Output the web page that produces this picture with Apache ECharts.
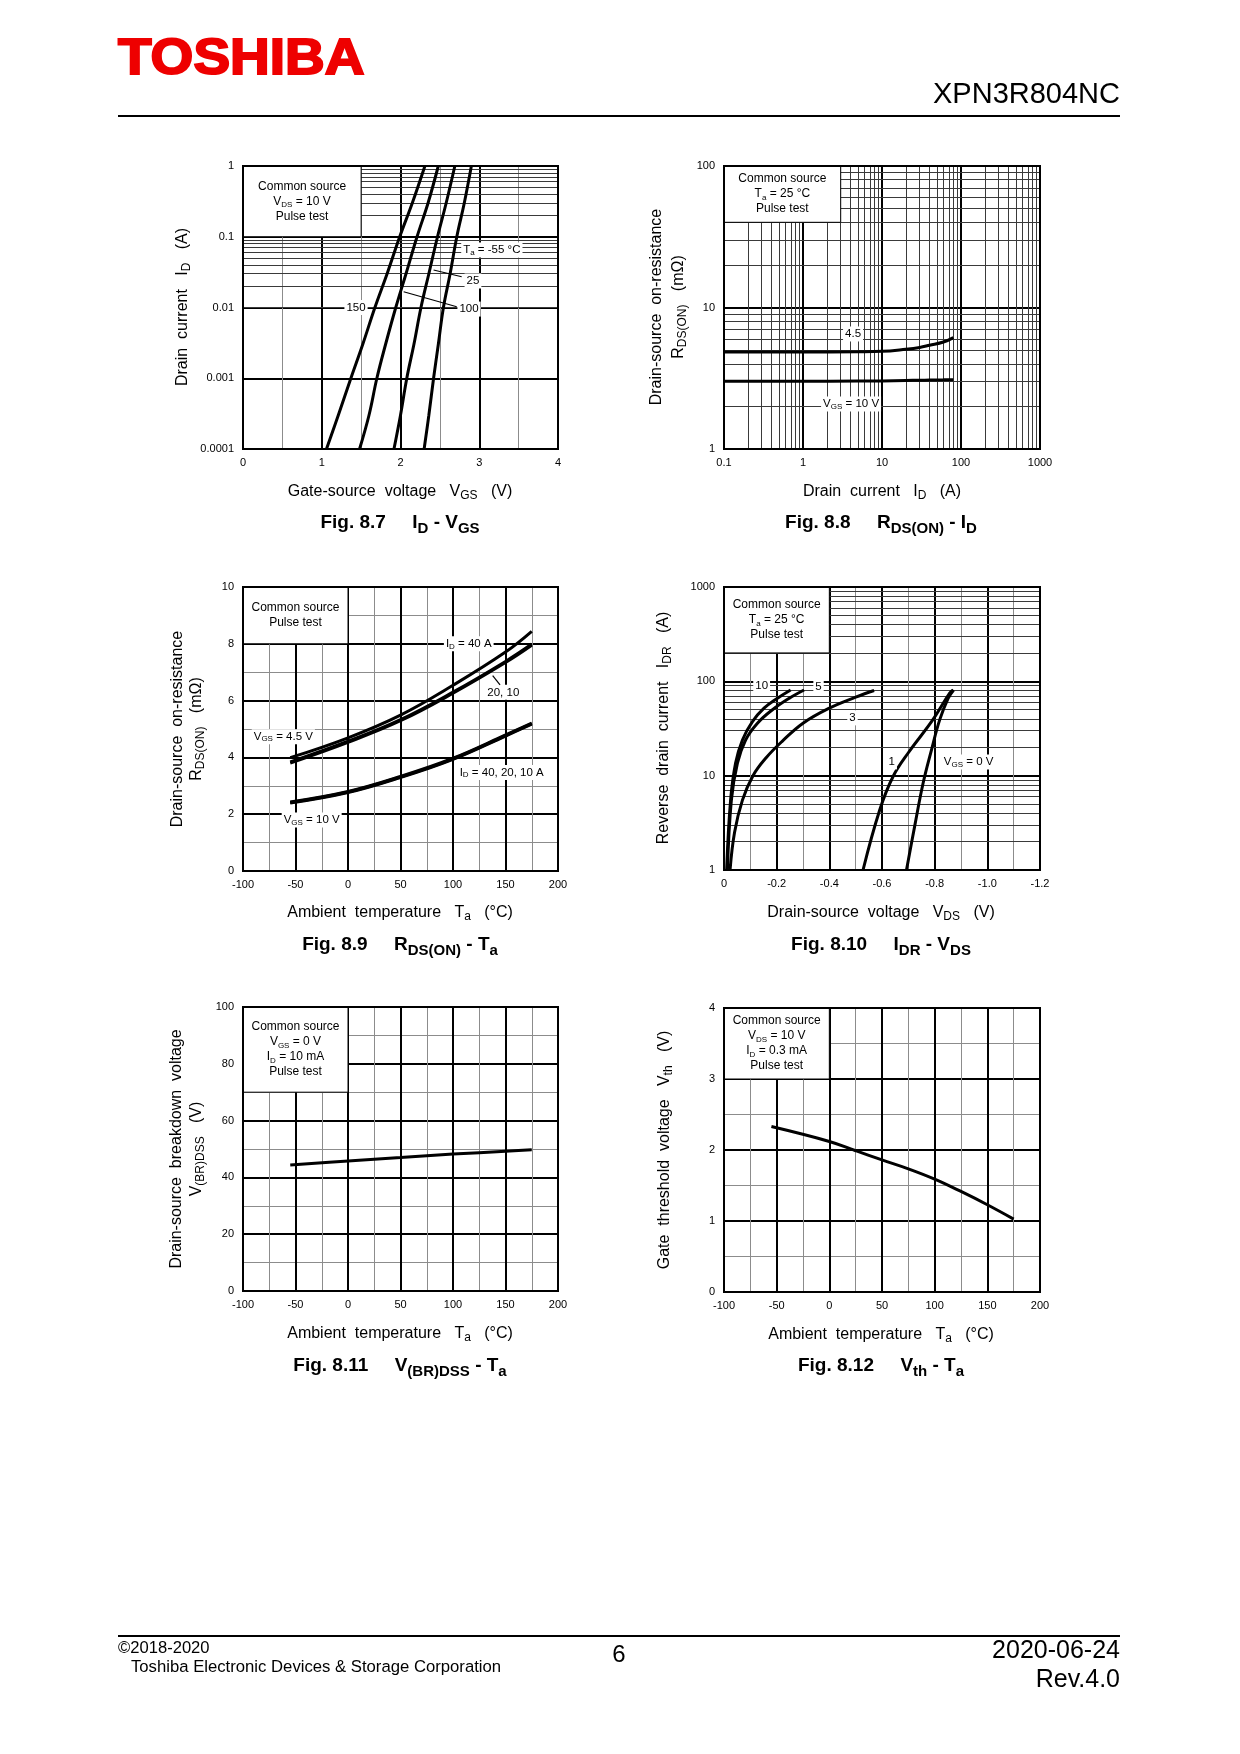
<!DOCTYPE html>
<html><head><meta charset="utf-8">
<script src="https://cdn.jsdelivr.net/npm/echarts@6/dist/echarts.min.js"></script>
<style>html,body{margin:0;padding:0;background:#fff}#c{width:1240px;height:1754px}</style>
</head><body><div id="c"></div>
<script>
// ================= DATA =================
// Fig. 8.7  ID - VGS
const id87 = [0.0001, 0.0003, 0.001, 0.003, 0.01, 0.03, 0.1, 0.3, 1];
const vgs87_150 = [1.06, 1.21, 1.37, 1.52, 1.675, 1.83, 1.99, 2.15, 2.31];
const vgs87_100 = [1.48, 1.60, 1.70, 1.81, 1.94, 2.07, 2.21, 2.35, 2.48];
const vgs87_25  = [1.917, 2.00, 2.08, 2.17, 2.26, 2.36, 2.47, 2.58, 2.69];
const vgs87_m55 = [2.30, 2.36, 2.42, 2.48, 2.545, 2.63, 2.715, 2.81, 2.90];
const xTicks87 = ['0', '1', '2', '3', '4'];
const yTicks87 = ['0.0001', '0.001', '0.01', '0.1', '1'];

// Fig. 8.8  RDS(ON) - ID
const id88 = [0.1, 1, 5, 10, 20, 30, 40, 60, 80];
const r88_45 = [4.85, 4.85, 4.87, 4.90, 5.07, 5.22, 5.41, 5.70, 6.13];
const r88_10 = [3.01, 3.01, 3.02, 3.03, 3.05, 3.06, 3.07, 3.08, 3.09];
const xTicks88 = ['0.1', '1', '10', '100', '1000'];
const yTicks88 = ['1', '10', '100'];

// Fig. 8.9  RDS(ON) - Ta
const ta89 = [-55, 0, 50, 100, 150, 175];
const r89_45_40 = [3.99, 4.69, 5.49, 6.54, 7.71, 8.44];
const r89_45_20 = [3.84, 4.57, 5.33, 6.30, 7.38, 7.99];
const r89_45_10 = [3.80, 4.53, 5.29, 6.26, 7.34, 7.95];
const r89_10_40 = [2.43, 2.80, 3.33, 3.97, 4.79, 5.21];
const r89_10_20 = [2.41, 2.78, 3.31, 3.95, 4.77, 5.19];
const r89_10_10 = [2.39, 2.76, 3.29, 3.93, 4.75, 5.17];
const taTicks = ['-100', '-50', '0', '50', '100', '150', '200'];
const yTicks89 = ['0', '2', '4', '6', '8', '10'];

// Fig. 8.10  IDR - VDS
const vds810_10 = [-0.010, -0.025, -0.044, -0.070, -0.108, -0.152, -0.203, -0.253];
const idr810_10 = [1, 5.5, 13.6, 23.9, 37.4, 51.9, 66.2, 81];
const vds810_5 = [-0.013, -0.028, -0.051, -0.082, -0.127, -0.184, -0.247, -0.304];
const idr810_5 = [1, 5.5, 13.6, 23.9, 36, 50, 66, 81];
const vds810_3 = [-0.023, -0.040, -0.070, -0.110, -0.160, -0.220, -0.300, -0.400, -0.500, -0.570];
const idr810_3 = [1, 2.5, 5.5, 10, 15.5, 23, 36, 52, 68, 80];
const vds810_1 = [-0.528, -0.591, -0.642, -0.700, -0.790, -0.857, -0.870];
const idr810_1 = [1, 4.3, 9.8, 17.5, 38, 75, 81];
const vds810_0 = [-0.693, -0.724, -0.756, -0.788, -0.819, -0.851, -0.872];
const idr810_0 = [1, 2.9, 8.3, 18.8, 39, 66, 81];
const xTicks810 = ['0', '-0.2', '-0.4', '-0.6', '-0.8', '-1.0', '-1.2'];
const yTicks810 = ['1', '10', '100', '1000'];

// Fig. 8.11  V(BR)DSS - Ta
const ta811 = [-55, 0, 50, 100, 150, 175];
const vbr811 = [44.4, 45.8, 47.0, 48.2, 49.2, 49.7];
const yTicks811 = ['0', '20', '40', '60', '80', '100'];

// Fig. 8.12  Vth - Ta
const ta812 = [-55, 0, 25, 50, 75, 100, 125, 150, 175];
const vth812 = [2.33, 2.12, 1.99, 1.86, 1.735, 1.59, 1.416, 1.229, 1.027];
const yTicks812 = ['0', '1', '2', '3', '4'];

// in-plot annotations
const labels87 = [
  { x: 3.16, y: 0.065, t: 'T{s|a} = -55 °C' },
  { x: 2.92, y: 0.0237, t: '25' },
  { x: 2.87, y: 0.0095, t: '100' },
  { x: 1.435, y: 0.01, t: '150' }
];
const arrows87 = [[[2.777, 0.0272], [2.42, 0.0339]], [[2.714, 0.01026], [2.04, 0.0167]]];
const labels88 = [
  { x: 4.3, y: 6.5, t: '4.5' },
  { x: 4.06, y: 2.08, t: 'V{s|GS} = 10 V' }
];
const labels89 = [
  { x: 115, y: 8.0, t: 'I{s|D} = 40 A' },
  { x: 147.9, y: 6.29, t: '20, 10' },
  { x: -61.6, y: 4.73, t: 'V{s|GS} = 4.5 V' },
  { x: 146.4, y: 3.47, t: 'I{s|D} = 40, 20, 10 A' },
  { x: -34.6, y: 1.80, t: 'V{s|GS} = 10 V' }
];
const arrows89 = [[[144.8, 6.55], [137.8, 6.88]]];
const labels810 = [
  { x: -0.143, y: 89, t: '10' },
  { x: -0.359, y: 88, t: '5' },
  { x: -0.488, y: 41, t: '3' },
  { x: -0.637, y: 14, t: '1' },
  { x: -0.929, y: 14, t: 'V{s|GS} = 0 V' }
];

// condition boxes
const box87 = ['Common source', 'V{s|DS} = 10 V', 'Pulse test'];
const box88 = ['Common source', 'T{s|a} = 25 °C', 'Pulse test'];
const box89 = ['Common source', 'Pulse test'];
const box810 = ['Common source', 'T{s|a} = 25 °C', 'Pulse test'];
const box811 = ['Common source', 'V{s|GS} = 0 V', 'I{s|D} = 10 mA', 'Pulse test'];
const box812 = ['Common source', 'V{s|DS} = 10 V', 'I{s|D} = 0.3 mA', 'Pulse test'];

// ================= STYLE / BUILD =================
const FF = "'Liberation Sans', Arial, Helvetica, sans-serif";
const sub = (fs, bold) => ({ s: { fontSize: fs, lineHeight: fs, verticalAlign: 'bottom', fontFamily: FF, fontWeight: bold ? 'bold' : 'normal', color: '#000', textBorderWidth: 0, opacity: 1 } });
const logMinorMult = [2, 3, 4, 5, 6, 7, 8, 9];
function minorsLog(e0, e1) {
  const out = [];
  for (let e = e0; e < e1; e++) for (const m of logMinorMult) out.push(+(m * Math.pow(10, e)).toPrecision(6));
  return out;
}
function fmt(ticks) {
  return function (v) {
    let best = '', bd = Infinity;
    for (const t of ticks) {
      const n = Number(t);
      const d = (n > 0 && v > 0) ? Math.abs(Math.log10(n) - Math.log10(v)) : Math.abs(n - v);
      if (d < bd) { bd = d; best = t; }
    }
    return bd < 1e-6 ? best : '';
  };
}
function linAxis(gi, dim, min, max, interval, ticks, extra) {
  return Object.assign({
    type: 'value', gridIndex: gi, min, max, interval,
    axisLine: { show: false }, axisTick: { show: false },
    axisLabel: { color: '#000', fontSize: 11, fontFamily: FF, margin: dim === 'x' ? 8 : 9, formatter: fmt(ticks), showMinLabel: true, showMaxLabel: true },
    splitLine: { show: true, lineStyle: { color: '#000', width: 2 } },
    minorTick: { show: false, splitNumber: 2 },
    minorSplitLine: { show: true, lineStyle: { color: '#8c8c8c', width: 1 } }
  }, extra || {});
}
function logAxis(gi, dim, min, max, ticks, extra) {
  return Object.assign({
    type: 'log', logBase: 10, gridIndex: gi, min, max,
    axisLine: { show: false }, axisTick: { show: false },
    axisLabel: { color: '#000', fontSize: 11, fontFamily: FF, margin: dim === 'x' ? 8 : 9, formatter: fmt(ticks), showMinLabel: true, showMaxLabel: true },
    splitLine: { show: true, lineStyle: { color: '#000', width: 2 } },
    minorTick: { show: false }, minorSplitLine: { show: false }
  }, extra || {});
}
function gridLines(gi, axis, values) {
  return {
    type: 'line', xAxisIndex: gi, yAxisIndex: gi, data: [], z: 1, silent: true,
    markLine: {
      z: 1, silent: true, animation: false, symbol: ['none', 'none'], label: { show: false },
      lineStyle: { color: '#3a3a3a', width: 1, type: 'solid' }, emphasis: { disabled: true },
      data: values.map(v => axis === 'x' ? { xAxis: v } : { yAxis: v })
    }
  };
}
function boxSeries(gi, x0, x1, y0, y1, lines) {
  return {
    type: 'line', xAxisIndex: gi, yAxisIndex: gi, data: [], z: 3, silent: true,
    markArea: {
      z: 3, silent: true, animation: false,
      itemStyle: { color: '#fff', borderColor: '#000', borderWidth: 1 },
      emphasis: { disabled: true },
      label: {
        show: true, position: 'inside', align: 'center', verticalAlign: 'middle',
        formatter: () => lines.join('\n'), color: '#000', fontSize: 12, lineHeight: 15, fontFamily: FF,
        textBorderWidth: 0, rich: sub(8)
      },
      data: [[{ xAxis: x0, yAxis: y1 }, { xAxis: x1, yAxis: y0 }]]
    }
  };
}
function curve(gi, xs, ys, w) {
  return {
    type: 'line', xAxisIndex: gi, yAxisIndex: gi, z: 4, silent: true,
    data: xs.map((x, i) => [x, ys[i]]),
    symbol: 'none', showSymbol: false, smooth: 0.4,
    lineStyle: { color: '#000', width: w || 3 }
  };
}
function labelSeries(gi, labels, arrows) {
  const s = {
    type: 'scatter', xAxisIndex: gi, yAxisIndex: gi, z: 5, silent: true,
    symbol: 'circle', symbolSize: 0, itemStyle: { color: '#000', opacity: 1 },
    data: labels.map(l => ({ value: [l.x, l.y], label: { formatter: () => l.t } })),
    label: {
      show: true, position: 'inside', color: '#000', opacity: 1, fontSize: 11.5, lineHeight: 13, fontFamily: FF,
      backgroundColor: '#fff', padding: [1, 2], textBorderWidth: 0, rich: sub(8)
    }
  };
  if (arrows) {
    s.markLine = {
      z: 6, silent: true, animation: false, symbol: ['none', 'arrow'], symbolSize: [0, 7],
      label: { show: false }, lineStyle: { color: '#000', width: 1.2, type: 'solid' }, emphasis: { disabled: true },
      data: arrows.map(a => [{ coord: a[0] }, { coord: a[1] }])
    };
  }
  return s;
}

const grids = [
  { left: 243, top: 166, width: 315, height: 283 },
  { left: 724, top: 166, width: 316, height: 283 },
  { left: 243, top: 587, width: 315, height: 284 },
  { left: 724, top: 587, width: 316, height: 283 },
  { left: 243, top: 1007, width: 315, height: 284 },
  { left: 724, top: 1008, width: 316, height: 284 }
];

const series = [
  gridLines(0, 'y', minorsLog(-4, 0)),
  gridLines(1, 'x', minorsLog(-1, 3)),
  gridLines(1, 'y', minorsLog(0, 2)),
  gridLines(3, 'y', minorsLog(0, 3)),
  boxSeries(0, 0, 1.5, 0.1, 1, box87),
  boxSeries(1, 0.1, 3, 40, 100, box88),
  boxSeries(2, -100, 0, 8, 10, box89),
  boxSeries(3, 0, -0.4, 200, 1000, box810),
  boxSeries(4, -100, 0, 70, 100, box811),
  boxSeries(5, -100, 0, 3, 4, box812),
  curve(0, vgs87_150, id87), curve(0, vgs87_100, id87), curve(0, vgs87_25, id87), curve(0, vgs87_m55, id87),
  curve(1, id88, r88_45), curve(1, id88, r88_10),
  curve(2, ta89, r89_45_40), curve(2, ta89, r89_45_20), curve(2, ta89, r89_45_10),
  curve(2, ta89, r89_10_40), curve(2, ta89, r89_10_20), curve(2, ta89, r89_10_10),
  curve(3, vds810_10, idr810_10), curve(3, vds810_5, idr810_5), curve(3, vds810_3, idr810_3),
  curve(3, vds810_1, idr810_1), curve(3, vds810_0, idr810_0),
  curve(4, ta811, vbr811),
  curve(5, ta812, vth812),
  labelSeries(0, labels87, arrows87),
  labelSeries(1, labels88),
  labelSeries(2, labels89, arrows89),
  labelSeries(3, labels810)
];

// ---- page texts ----
function gtext(x, y, text, o) {
  o = o || {};
  const fs = o.fs || 16;
  return {
    type: 'text', x, y, rotation: o.rot || 0, silent: true, z: 100, scaleX: o.sx || 1,
    style: {
      text, x: 0, y: 0, fill: o.color || '#000', fontSize: fs, fontFamily: o.ff || FF,
      fontWeight: o.fw || 'normal', lineHeight: o.lh || Math.round(fs * 1.25),
      align: o.align || 'center', verticalAlign: 'middle', textAlign: o.align || 'center', textVerticalAlign: 'middle',
      stroke: o.stroke, lineWidth: o.lw || 0, rich: o.rich || sub(Math.round(fs * 0.72), o.fw === 'bold')
    }
  };
}
const CAP = { fs: 19, fw: 'bold', rich: sub(15, true), lh: 26 };
const ROT = Math.PI / 2;
const graphics = [
  gtext(118, 60, 'TOSHIBA', { fs: 50, fw: 'bold', color: '#ee0000', align: 'left', sx: 1.1, stroke: '#ee0000', lw: 2 }),
  gtext(1120, 95, 'XPN3R804NC', { fs: 29, align: 'right' }),
  { type: 'line', silent: true, z: 100, shape: { x1: 118, y1: 116, x2: 1120, y2: 116 }, style: { stroke: '#000', lineWidth: 2 } },
  { type: 'line', silent: true, z: 100, shape: { x1: 118, y1: 1636, x2: 1120, y2: 1636 }, style: { stroke: '#000', lineWidth: 2 } },
  gtext(118, 1648, '©2018-2020', { fs: 16.6, align: 'left' }),
  gtext(131, 1667, 'Toshiba Electronic Devices & Storage Corporation', { fs: 16.7, align: 'left' }),
  gtext(619, 1655, '6', { fs: 24 }),
  gtext(1120, 1651, '2020-06-24', { fs: 25, align: 'right' }),
  gtext(1120, 1680, 'Rev.4.0', { fs: 25, align: 'right' }),

  // Fig 8.7
  gtext(183, 307, 'Drain  current   I{s|D}   (A)', { rot: ROT }),
  gtext(400, 492, 'Gate-source  voltage   V{s|GS}   (V)'),
  gtext(400, 523, 'Fig. 8.7     I{s|D} - V{s|GS}', CAP),
  // Fig 8.8
  gtext(657, 307, 'Drain-source  on-resistance', { rot: ROT }),
  gtext(679, 307, 'R{s|DS(ON)}   (mΩ)', { rot: ROT }),
  gtext(882, 492, 'Drain  current   I{s|D}   (A)'),
  gtext(881, 523, 'Fig. 8.8     R{s|DS(ON)} - I{s|D}', CAP),
  // Fig 8.9
  gtext(178, 729, 'Drain-source  on-resistance', { rot: ROT }),
  gtext(197, 729, 'R{s|DS(ON)}   (mΩ)', { rot: ROT }),
  gtext(400, 913, 'Ambient  temperature   T{s|a}   (°C)'),
  gtext(400, 945, 'Fig. 8.9     R{s|DS(ON)} - T{s|a}', CAP),
  // Fig 8.10
  gtext(664, 728, 'Reverse  drain  current   I{s|DR}   (A)', { rot: ROT }),
  gtext(881, 913, 'Drain-source  voltage   V{s|DS}   (V)'),
  gtext(881, 945, 'Fig. 8.10     I{s|DR} - V{s|DS}', CAP),
  // Fig 8.11
  gtext(177, 1149, 'Drain-source  breakdown  voltage', { rot: ROT }),
  gtext(197, 1149, 'V{s|(BR)DSS}   (V)', { rot: ROT }),
  gtext(400, 1334, 'Ambient  temperature   T{s|a}   (°C)'),
  gtext(400, 1366, 'Fig. 8.11     V{s|(BR)DSS} - T{s|a}', CAP),
  // Fig 8.12
  gtext(665, 1150, 'Gate  threshold  voltage   V{s|th}   (V)', { rot: ROT }),
  gtext(881, 1335, 'Ambient  temperature   T{s|a}   (°C)'),
  gtext(881, 1366, 'Fig. 8.12     V{s|th} - T{s|a}', CAP)
];

const option = {
  animation: false,
  backgroundColor: '#fff',
  textStyle: { fontFamily: FF },
  grid: grids.map(g => Object.assign({}, g, { show: true, z: 10, borderColor: '#000', borderWidth: 2, backgroundColor: 'transparent', containLabel: false, outerBoundsMode: 'none' })),
  xAxis: [
    linAxis(0, 'x', 0, 4, 1, xTicks87),
    logAxis(1, 'x', 0.1, 1000, xTicks88),
    linAxis(2, 'x', -100, 200, 50, taTicks),
    linAxis(3, 'x', -1.2, 0, 0.2, xTicks810, { inverse: true }),
    linAxis(4, 'x', -100, 200, 50, taTicks),
    linAxis(5, 'x', -100, 200, 50, taTicks)
  ],
  yAxis: [
    logAxis(0, 'y', 0.0001, 1, yTicks87),
    logAxis(1, 'y', 1, 100, yTicks88),
    linAxis(2, 'y', 0, 10, 2, yTicks89),
    logAxis(3, 'y', 1, 1000, yTicks810),
    linAxis(4, 'y', 0, 100, 20, yTicks811),
    linAxis(5, 'y', 0, 4, 1, yTicks812)
  ],
  series,
  graphic: { elements: graphics }
};
const chart = echarts.init(document.getElementById('c'), null, { renderer: 'canvas', width: 1240, height: 1754 });
chart.setOption(option);
</script>
</body></html>
